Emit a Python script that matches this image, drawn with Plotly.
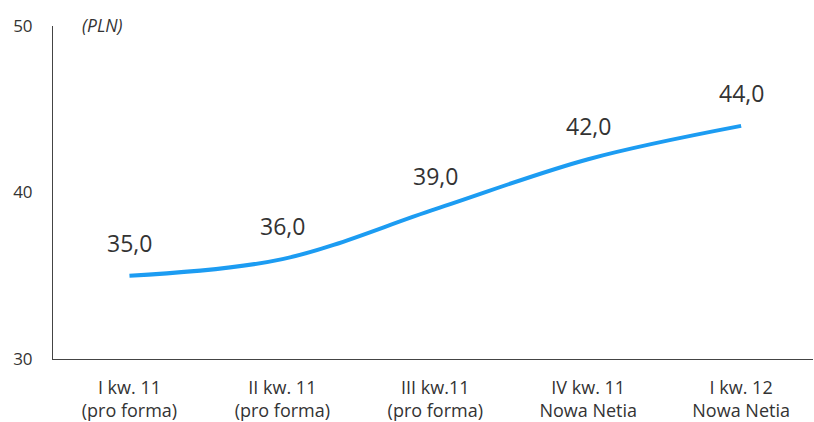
import plotly.graph_objects as go

# Quarterly values (PLN)
quarters = ["I kw. 11<br>(pro forma)", "II kw. 11<br>(pro forma)", "III kw.11<br>(pro forma)",
            "IV kw. 11<br>Nowa Netia", "I kw. 12<br>Nowa Netia"]
values = [35.0, 36.0, 39.0, 42.0, 44.0]
y_ticks = [30, 40, 50]

FONT = "Open Sans"
TEXT_COLOR = "#333333"
LINE_COLOR = "#1C9CF2"

x_idx = list(range(len(quarters)))

fig = go.Figure()
fig.add_trace(go.Scatter(
    x=x_idx, y=values, mode="lines",
    line=dict(color=LINE_COLOR, width=4, shape="spline", smoothing=1.0),
    hoverinfo="skip",
))

# value labels above each point
for xi, v in zip(x_idx, values):
    fig.add_annotation(
        x=xi, y=v, text=f"{v:.1f}".replace(".", ","),
        showarrow=False, yshift=33,
        font=dict(family=FONT, size=23, color=TEXT_COLOR),
    )

# unit label
fig.add_annotation(
    xref="paper", yref="paper", x=0.035, y=1.0, xanchor="left", yanchor="bottom",
    text="<i>(PLN)</i>", showarrow=False, yshift=-13,
    font=dict(family=FONT, size=17.5, color=TEXT_COLOR),
)

fig.update_layout(
    width=814, height=422,
    margin=dict(l=53, r=1, t=26, b=63, autoexpand=False),
    paper_bgcolor="white", plot_bgcolor="white",
    showlegend=False,
    font=dict(family=FONT, size=17, color=TEXT_COLOR),
    xaxis=dict(
        range=[-0.5, len(quarters) - 0.53], automargin=False,
        tickmode="array", tickvals=x_idx, ticktext=quarters,
        showline=True, linecolor="#444444", linewidth=1,
        showgrid=False, zeroline=False, ticks="", ticklabelstandoff=12,
        tickfont=dict(family=FONT, size=18, color=TEXT_COLOR),
    ),
    yaxis=dict(
        range=[30, 50], tickvals=y_ticks, automargin=False,
        showline=True, linecolor="#444444", linewidth=1,
        showgrid=False, zeroline=False, ticks="", ticklabelstandoff=16,
        tickfont=dict(family=FONT, size=17, color=TEXT_COLOR),
    ),
)

fig.write_html("out.html")
